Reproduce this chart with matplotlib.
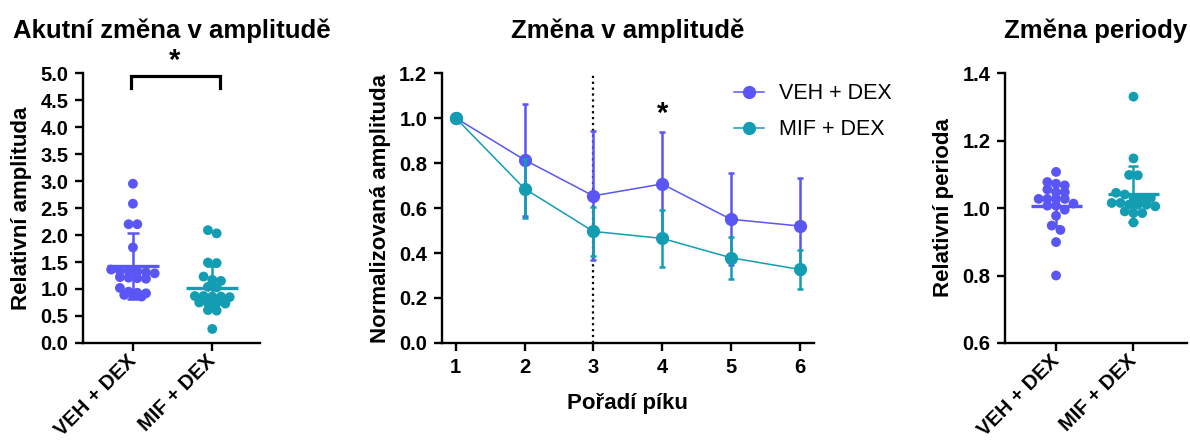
import numpy as np
import matplotlib
matplotlib.use('Agg')
import matplotlib.pyplot as plt
import matplotlib.transforms as mtransforms

plt.rcParams['font.family'] = ['Liberation Sans', 'DejaVu Sans']

# ---- data ----
groups = ['VEH + DEX', 'MIF + DEX']
c_veh = '#5a55f5'
c_mif = '#139db2'

# panel 1: acute amplitude change
acute_veh = [2.95, 2.58, 2.20, 2.20, 1.77, 1.36, 1.33, 1.34, 1.31, 1.29, 1.33,
             1.20, 1.22, 1.19, 1.21, 1.02, 0.95, 0.93, 0.89, 0.88, 0.92, 0.86]
acute_mif = [2.09, 2.03, 1.49, 1.48, 1.23, 1.17, 1.15, 1.03, 1.04, 0.87, 0.86,
             0.86, 0.87, 0.75, 0.73, 0.74, 0.74, 0.61, 0.60, 0.26, 0.85]
acute_mean = [1.42, 1.02]
acute_sd = [0.61, 0.40]

# panel 2: amplitude per peak
peaks = [1, 2, 3, 4, 5, 6]
amp_veh = [1.0, 0.814, 0.654, 0.707, 0.550, 0.520]
amp_veh_sd = [0.0, 0.25, 0.287, 0.233, 0.205, 0.213]
amp_mif = [1.0, 0.686, 0.496, 0.465, 0.379, 0.327]
amp_mif_sd = [0.0, 0.13, 0.11, 0.126, 0.093, 0.086]

# panel 3: period change
period_veh = [1.107, 1.077, 1.072, 1.067, 1.055, 1.047, 1.047, 1.027, 1.027,
              1.027, 1.027, 1.013, 1.007, 1.007, 0.995, 0.977, 0.948, 0.935,
              0.899, 0.800]
period_mif = [1.330, 1.147, 1.098, 1.097, 1.045, 1.040, 1.030, 1.030, 1.030,
              1.010, 1.010, 1.015, 1.015, 1.010, 1.005, 0.990, 0.985, 0.985,
              0.957]
period_mean = [1.007, 1.042]
period_sd = [0.060, 0.082]


def swarm(ax, xc, vals, row_px=6.0, step_px=8.7):
    # group values into rows (pixel space) and spread each row sideways
    trans = ax.transData
    pts = trans.transform([(xc, v) for v in vals])
    order = np.argsort(-np.asarray(vals))
    rows = []
    for i in order:
        if rows and pts[rows[-1][0], 1] - pts[i, 1] < row_px:
            rows[-1].append(i)
        else:
            rows.append([i])
    off = np.zeros(len(vals))
    for r in rows:
        n = len(r)
        for k, i in enumerate(r):
            off[i] = (k - (n - 1) / 2) * step_px
    xs = trans.inverted().transform(np.column_stack([pts[:, 0] + off, pts[:, 1]]))[:, 0]
    return xs


def style(ax):
    for s in ['top', 'right']:
        ax.spines[s].set_visible(False)
    for s in ['left', 'bottom']:
        ax.spines[s].set_linewidth(1.7)
    ax.tick_params(width=1.7, length=6, pad=4.5, labelsize=14.5)
    for lab in ax.get_xticklabels() + ax.get_yticklabels():
        lab.set_fontweight('bold')


def dot_panel(ax, data, means, sds, cap):
    cols = [c_veh, c_mif]
    for i, (vals, col) in enumerate(zip(data, cols)):
        xs = swarm(ax, i + 1, vals)
        ax.scatter(xs, vals, s=50, color=col, edgecolor='none', zorder=2, clip_on=False)
        ax.hlines(means[i], i + 1 - 0.33, i + 1 + 0.33, color=col, lw=2.4, zorder=3)
        ax.errorbar(i + 1, means[i], yerr=sds[i], color=col, elinewidth=1.8,
                    capsize=cap, capthick=1.8, zorder=3)
    ax.set_xticks([1, 2])
    ax.set_xticklabels(groups, rotation=45, ha='right', va='center',
                       rotation_mode='anchor', fontsize=14.5)
    shift = mtransforms.ScaledTranslation(0.05, -0.12, fig.dpi_scale_trans)
    for lab in ax.get_xticklabels():
        lab.set_transform(lab.get_transform() + shift)


fig = plt.figure(figsize=(11.9, 4.44), dpi=100)
ax1 = fig.add_axes([0.0697, 0.2275, 0.1487, 0.608])
ax2 = fig.add_axes([0.3712, 0.2275, 0.3129, 0.608])
ax3 = fig.add_axes([0.8445, 0.2275, 0.1529, 0.608])

# ---- panel 1 ----
ax1.set_xlim(0.37, 2.6)
ax1.set_ylim(0, 5)
ax1.set_yticks(np.arange(0, 5.01, 0.5))
ax1.yaxis.set_major_formatter('{x:.1f}')
dot_panel(ax1, [acute_veh, acute_mif], acute_mean, acute_sd, 4.5)
ax1.plot([0.97, 0.97, 2.1, 2.1], [4.72, 4.95, 4.95, 4.72], color='black',
         lw=2.3, clip_on=False, solid_joinstyle='miter')
ax1.text(1.53, 4.97, '*', ha='center', va='bottom', fontsize=21, fontweight='bold')
ax1.set_ylabel('Relativní amplituda', fontsize=16, fontweight='bold', labelpad=6)
ax1.set_title('Akutní změna v amplitudě', fontsize=18.5, fontweight='bold', pad=25)
style(ax1)

# ---- panel 2 ----
ax2.set_xlim(0.796, 6.21)
ax2.set_ylim(0, 1.2)
ax2.set_yticks(np.arange(0, 1.21, 0.2))
ax2.yaxis.set_major_formatter('{x:.1f}')
ax2.set_xticks(peaks)
ax2.axvline(3, color='black', ls=':', lw=1.6, zorder=1)
ax2.errorbar(peaks, amp_veh, yerr=amp_veh_sd, fmt='-o', color=c_veh, lw=1.1,
             elinewidth=1.8, capsize=2.5, capthick=1.8, markersize=8.5,
             label='VEH + DEX', zorder=3)
ax2.errorbar(peaks, amp_mif, yerr=amp_mif_sd, fmt='-o', color=c_mif, lw=1.1,
             elinewidth=1.8, capsize=2.5, capthick=1.8, markersize=8.5,
             label='MIF + DEX', zorder=4)
ax2.text(4, 0.955, '*', ha='center', va='bottom', fontsize=21, fontweight='bold')
ax2.set_xlabel('Pořadí píku', fontsize=16, fontweight='bold', labelpad=12)
ax2.set_ylabel('Normalizovaná amplituda', fontsize=16, fontweight='bold', labelpad=6)
ax2.set_title('Změna v amplitudě', fontsize=18.5, fontweight='bold', pad=25)
h, l = ax2.get_legend_handles_labels()
h = [hh[0] for hh in h]
fig.legend(h, l, loc='upper left', bbox_to_anchor=(0.617, 0.812),
           frameon=False, fontsize=15.5, handlelength=1.4, handletextpad=0.7,
           labelspacing=0.69, borderpad=0, borderaxespad=0)
style(ax2)

# ---- panel 3 ----
ax3.set_xlim(0.34, 2.69)
ax3.set_ylim(0.6, 1.4)
ax3.set_yticks(np.arange(0.6, 1.41, 0.2))
ax3.yaxis.set_major_formatter('{x:.1f}')
dot_panel(ax3, [period_veh, period_mif], period_mean, period_sd, 3.6)
ax3.set_ylabel('Relativní perioda', fontsize=16, fontweight='bold', labelpad=6)
ax3.set_title('Změna periody', fontsize=18.5, fontweight='bold', pad=25)
style(ax3)

fig.savefig('out.png', dpi=100)
